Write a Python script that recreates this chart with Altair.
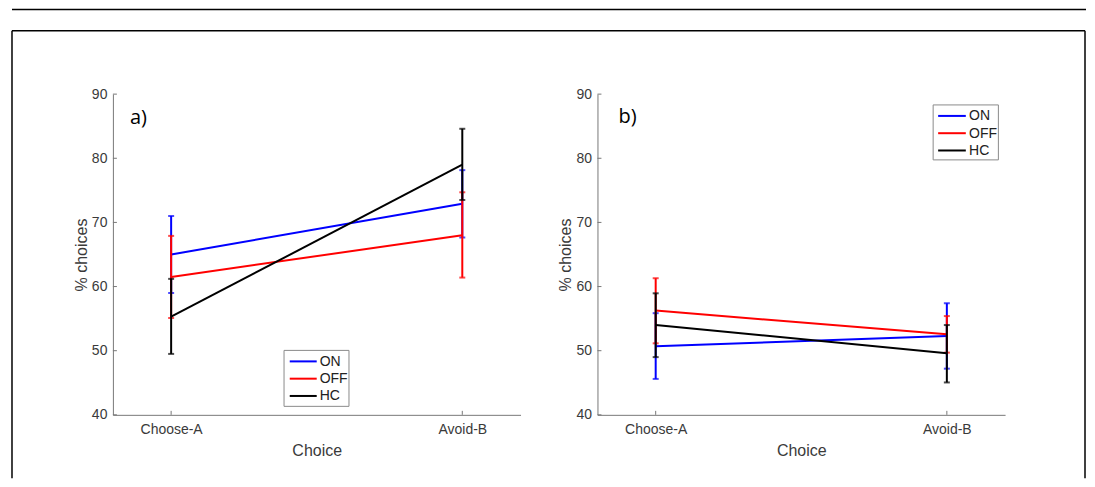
import altair as alt
import pandas as pd

# ---------------- data ----------------
series = ["ON", "OFF", "HC"]
colors = ["#0000ff", "#ff0000", "#000000"]
choices = ["Choose-A", "Avoid-B"]
choice_x = [1, 2]
y_ticks = [40, 50, 60, 70, 80, 90]

# panel a)  values for [Choose-A, Avoid-B]
a_on_mean = [65.0, 72.9]
a_on_low = [59.0, 67.65]
a_on_high = [71.0, 78.15]
a_off_mean = [61.5, 68.0]
a_off_low = [55.1, 61.4]
a_off_high = [67.9, 74.7]
a_hc_mean = [55.3, 79.0]
a_hc_low = [49.5, 73.5]
a_hc_high = [61.2, 84.6]

# panel b)
b_on_mean = [50.7, 52.3]
b_on_low = [45.6, 47.2]
b_on_high = [55.85, 57.4]
b_off_mean = [56.25, 52.55]
b_off_low = [51.15, 49.7]
b_off_high = [61.3, 55.4]
b_hc_mean = [54.0, 49.6]
b_hc_low = [49.0, 45.05]
b_hc_high = [58.95, 54.0]


def make_df(means, lows, highs):
    rows = []
    for s, m, lo, hi in zip(series, means, lows, highs):
        for x, c, mv, l, h in zip(choice_x, choices, m, lo, hi):
            rows.append(dict(series=s, x=x, choice=c, mean=mv, lo=l, hi=h))
    return pd.DataFrame(rows)


df_a = make_df([a_on_mean, a_off_mean, a_hc_mean],
               [a_on_low, a_off_low, a_hc_low],
               [a_on_high, a_off_high, a_hc_high])
df_b = make_df([b_on_mean, b_off_mean, b_hc_mean],
               [b_on_low, b_off_low, b_hc_low],
               [b_on_high, b_off_high, b_hc_high])

# ---------------- layout ----------------
W, H = 408, 321
DOM = "#777777"
TXT = "#3a3a3a"
one = pd.DataFrame({"k": [0]})

label_expr = "datum.value == %d ? '%s' : '%s'" % (choice_x[0], choices[0], choices[1])


def panel(df, tag, tag_x, tag_y, box, sample_x, text_x, row_y0, row_dy):
    xs = alt.Scale(domain=[0.8, 2.2], nice=False, zero=False)
    ys = alt.Scale(domain=[40, 90], nice=False, zero=False)
    cscale = alt.Scale(domain=series, range=colors)
    x_axis = alt.Axis(values=choice_x, labelExpr=label_expr, title="Choice",
                      labelPadding=8, titlePadding=6, ticks=False, grid=False)
    y_axis = alt.Axis(values=y_ticks, title="% choices", labelPadding=6,
                      titlePadding=2, ticks=False, grid=False)

    layers = []
    # inward ticks
    layers.append(
        alt.Chart(pd.DataFrame({"v": y_ticks})).mark_rule(color=DOM, strokeWidth=1).encode(
            y=alt.Y("v:Q", scale=ys, axis=y_axis), x=alt.value(0), x2=alt.value(4))
    )
    layers.append(
        alt.Chart(pd.DataFrame({"v": choice_x})).mark_rule(color=DOM, strokeWidth=1).encode(
            x=alt.X("v:Q", scale=xs, axis=x_axis), y=alt.value(H), y2=alt.value(H - 4))
    )

    X = alt.X("x:Q", scale=xs, axis=x_axis)
    C = alt.Color("series:N", scale=cscale, legend=None)
    for s in series:
        b = alt.Chart(df).transform_filter(alt.datum.series == s)
        layers.append(b.mark_line(strokeWidth=2).encode(
            x=X, y=alt.Y("mean:Q", scale=ys, axis=y_axis), color=C))
        layers.append(b.mark_rule(strokeWidth=2).encode(
            x=X, y=alt.Y("lo:Q", scale=ys, axis=y_axis), y2="hi:Q", color=C))
        layers.append(b.mark_tick(orient="horizontal", size=6, thickness=2).encode(
            x=X, y=alt.Y("lo:Q", scale=ys, axis=y_axis), color=C))
        layers.append(b.mark_tick(orient="horizontal", size=6, thickness=2).encode(
            x=X, y=alt.Y("hi:Q", scale=ys, axis=y_axis), color=C))

    # panel tag
    layers.append(alt.Chart(one).mark_text(
        text=tag, font="Open Sans", fontSize=20, color="#000000",
        align="left", baseline="alphabetic").encode(x=alt.value(tag_x), y=alt.value(tag_y)))

    # legend
    bx0, by0, bx1, by1 = box
    layers.append(alt.Chart(one).mark_rect(fill="white", stroke="#8a8a8a", strokeWidth=1).encode(
        x=alt.value(bx0), x2=alt.value(bx1), y=alt.value(by0), y2=alt.value(by1)))
    for i, (s, col) in enumerate(zip(series, colors)):
        yy = row_y0 + i * row_dy
        d = pd.DataFrame({"series": [s]})
        layers.append(alt.Chart(d).mark_rule(color=col, strokeWidth=2).encode(
            x=alt.value(sample_x[0]), x2=alt.value(sample_x[1]), y=alt.value(yy)))
        layers.append(alt.Chart(d).mark_text(
            font="Liberation Sans", fontSize=14, color="#222222",
            align="left", baseline="middle").encode(
            x=alt.value(text_x), y=alt.value(yy + 0.5), text="series:N"))
    return layers


layers_a = panel(df_a, "a)", 17, 29.5, (171.3, 256.5, 236.3, 312.5),
                 (177, 204), 207, 267.5, 17.3)
layers_b = panel(df_b, "b)", 21, 29.0, (336, 10.8, 401.3, 65.8),
                 (341, 368.7), 372, 21.8, 17.3)

# outer frame and top rule (decoration of the figure page)
frame = [
    alt.Chart(one).mark_rule(color="#000000", strokeWidth=1.5).encode(
        x=alt.value(-101), x2=alt.value(974), y=alt.value(-84.75)),
    alt.Chart(one).mark_rule(color="#000000", strokeWidth=1.5).encode(
        x=alt.value(-101), x2=alt.value(973), y=alt.value(-63.5)),
    alt.Chart(one).mark_rule(color="#000000", strokeWidth=1.5).encode(
        x=alt.value(-101), y=alt.value(-63.5), y2=alt.value(384.5)),
    alt.Chart(one).mark_rule(color="#000000", strokeWidth=1.5).encode(
        x=alt.value(973), y=alt.value(-63.5), y2=alt.value(384.5)),
]

left = alt.layer(*(frame + layers_a)).properties(width=W, height=H)
right = alt.layer(*layers_b).properties(width=W, height=H)

chart = alt.hconcat(left, right, spacing=77, bounds="flush").properties(
    padding={"left": 3, "top": 0, "right": 0, "bottom": 0}
).configure_view(stroke=None).configure_axis(
    labelFont="Liberation Sans", labelFontSize=14, labelColor=TXT,
    titleFont="Liberation Sans", titleFontSize=16, titleFontWeight="normal",
    titleColor=TXT, domainColor=DOM, domainWidth=1, grid=False, ticks=False
)

chart.save("out.html", embed_options={"renderer": "svg", "actions": False})
